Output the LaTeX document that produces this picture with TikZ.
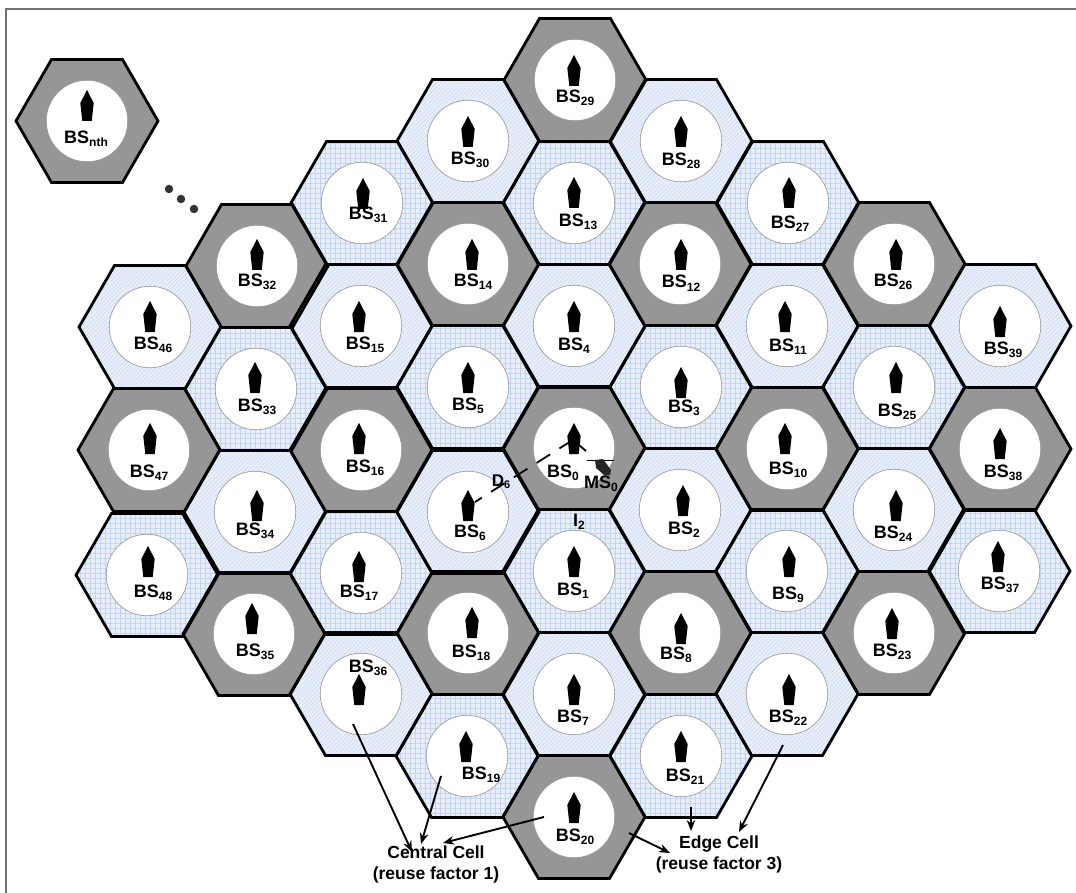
\documentclass[tikz,border=0pt]{standalone}
\usepackage{fontspec}
\setmainfont{Liberation Sans}
\usetikzlibrary{arrows.meta,patterns.meta}
\definecolor{hexgray}{HTML}{969696}
\definecolor{palebg}{HTML}{E8EEFA}
\definecolor{paleln}{HTML}{C4D3EE}
\tikzset{
  x=1pt,y=-1pt,
  cellg/.style={fill=hexgray},
  celld/.style={fill=palebg,postaction={pattern={Lines[angle=45,distance=3pt,line width=.35pt]},pattern color=paleln}},
  cellh/.style={fill=palebg,postaction={pattern={Hatch[angle=0,distance=5pt,line width=.4pt]},pattern color=paleln}},
  hexline/.style={draw=black,line width=2.8pt,line join=miter},
  cellcircle/.style={circle,draw=gray!85,fill=white,line width=.6pt,minimum size=81.5pt,inner sep=0pt},
  bslabel/.style={anchor=base,inner sep=0pt,font=\fontsize{18}{20}\selectfont\bfseries},
  note/.style={align=center,inner sep=0pt,font=\fontsize{17.5}{21}\selectfont\bfseries},
  towershape/.style={fill=black},
  pointer/.style={draw=black,line width=1.9pt,-{Stealth[length=11pt,width=8.5pt]}},
  linkline/.style={draw=black,line width=1.8pt},
  dotmark/.style={circle,fill=black!80,minimum size=8.5pt,inner sep=0pt},
}
\newcommand{\bslab}[1]{BS\raisebox{-3pt}{\fontsize{12}{12}\selectfont #1}}
\newcommand{\hexat}[1]{(#1)++(-71,0)--++(35.5,-61.5)--++(71,0)--++(35.5,61.5)--++(-35.5,61.5)--++(-71,0)--cycle}
% name / type / centre x / centre y / tower x / tower top / label x / label baseline
\def\cells{
0/g/574/448/574/423/563/477,
1/h/574/571/574/546/573/595,
2/d/680/510/683/485/684/534,
3/h/681/387/681/367/684/412,
4/d/574/326/574/301/574/350,
5/h/468/387/468/362/468/410,
6/d/468/512/468/490/470/537,
7/d/574/694/574/674/573/722,
8/g/680/633/681/613/676/659,
9/h/787/571/789/546/788/599,
10/g/787/449/785/423/788/474,
11/d/787/326/785/301/788/351,
12/g/680/264/681/239/681/288,
13/h/574/203/574/177/578/227,
14/g/468/264/472/239/473/287,
15/d/361/326/359/301/365/349,
16/g/361/450/359/423/365/472,
17/h/361/573/359/551/359/597,
18/g/468/633/472/607/471/657,
19/h/467/756/466/731/481/779,
20/g/574/817/574/792/575/841,
21/h/681/756/681/731/685/781,
22/d/787/694/789/674/788/722,
23/g/894/633/892/608/892/656,
24/d/894/510/896/490/893/538,
25/h/894/387/896/362/897/416,
26/g/894/264/896/239/893/287,
27/h/788/203/789/177/790/229,
28/d/681/141/681/116/681/166,
29/g/575/80/574/55/575/103,
30/d/468/141/468/116/470/165,
31/h/362/203/363/178/368/220,
32/g/257/266/257/239/257/287,
33/h/256/389/255/362/257/411,
34/d/255/512/257/490/255/535,
35/g/254/634/252/603/255/656,
36/d/361/694/359/674/368/672,
37/h/999/571/998/541/1000/589,
38/g/1000/449/1000/428/1003/477,
39/d/1000/326/1000/306/1003/354,
46/d/150/327/150/301/153/349,
47/g/149/450/150/423/149/477,
48/h/147/575/148/546/153/597,
nth/g/87/121/87/90/86/144}
\begin{document}
\begin{tikzpicture}
\useasboundingbox (0,0) rectangle (1076,893);
\fill[white] (0,0) rectangle (1076,893);
\coordinate (frameA) at (6,893);
\coordinate (frameB) at (6,9);
\coordinate (frameC) at (1076,9);
\draw[draw=black!55,line width=1.5pt] (frameA)--(frameB)--(frameC);
% hexagon fills
\foreach \n/\t/\cx/\cy/\tx/\ty/\lx/\ly in \cells {
  \path[cell\t] \hexat{\cx,\cy};
}
% hexagon outlines
\foreach \n/\t/\cx/\cy/\tx/\ty/\lx/\ly in \cells {
  \path[hexline] \hexat{\cx,\cy};
}
% circles, towers and labels
\foreach \n/\t/\cx/\cy/\tx/\ty/\lx/\ly in \cells {
  \node[cellcircle] (c\n) at (\cx,\cy) {};
  \fill[towershape] (\tx,\ty) -- ++(6.7,13) -- ++(-2,18) -- ++(-9.4,0) -- ++(-2,-18) -- cycle;
  \node[bslabel] (l\n) at (\lx,\ly) {\bslab{\n}};
}
% dots
\node[dotmark] (dotA) at (169,189) {};
\node[dotmark] (dotB) at (181,199) {};
\node[dotmark] (dotC) at (194,209) {};
% D6 link and MS0
\coordinate (t6) at (475,502);
\coordinate (t0) at (568,443);
\coordinate (t0b) at (579,445);
\coordinate (ms) at (586,451);
\coordinate (msa) at (587,460);
\coordinate (msb) at (614,460);
\draw[linkline,dash pattern=on 16pt off 11pt,dash phase=8pt] (t6) -- (t0);
\draw[linkline] (t0b) -- (ms);
\draw[draw=black,line width=.8pt] (msa) -- (msb);
\fill[black!85] (595,460) -- (603,459) -- (611,470) -- (610,475) -- (604,475) -- (596,468) -- cycle;
\node[bslabel,font=\fontsize{17}{20}\selectfont\bfseries] (nD) at (501,486) {D\raisebox{-2pt}{\fontsize{11}{11}\selectfont 6}};
\node[bslabel] (nM) at (601,488) {MS\raisebox{-3pt}{\fontsize{12}{12}\selectfont 0}};
\node[bslabel] (nI) at (579,526) {I\raisebox{-3pt}{\fontsize{12}{12}\selectfont 2}};
% captions
\node[note] (central) at (436,864) {Central Cell\\(reuse factor 1)};
\node[note] (edge) at (719,854) {Edge Cell\\(reuse factor 3)};
% pointers
\coordinate (f36) at (353,724);
\coordinate (f19) at (441,776);
\coordinate (f20a) at (544,817);
\coordinate (f20b) at (629,833);
\coordinate (f21) at (691,807);
\coordinate (f22) at (783,745);
\coordinate (h36) at (412,852);
\coordinate (h19) at (421,844);
\coordinate (h20a) at (443,843);
\coordinate (h20b) at (670,853);
\coordinate (h21) at (691,831);
\coordinate (h22) at (739,832);
\draw[pointer] (f36) -- (h36);
\draw[pointer] (f19) -- (h19);
\draw[pointer] (f20a) -- (h20a);
\draw[pointer] (f20b) -- (h20b);
\draw[pointer] (f21) -- (h21);
\draw[pointer] (f22) -- (h22);
\end{tikzpicture}
\end{document}
